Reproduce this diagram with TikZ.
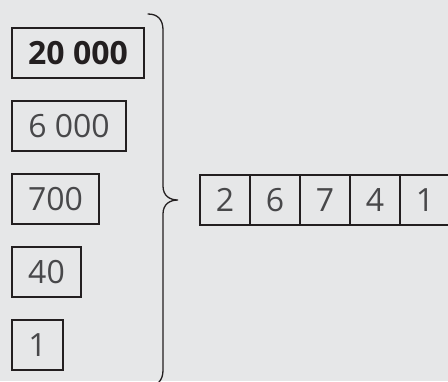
\documentclass[tikz,border=0pt]{standalone}
\usepackage{fontspec}
\setmainfont{Open Sans}
\usetikzlibrary{positioning}

\definecolor{bgray}{HTML}{E6E7E8}
\definecolor{ink}{HTML}{231F20}
\definecolor{digit}{HTML}{48484A}

\begin{document}
\begin{tikzpicture}[
  x=1pt, y=-1pt,
  font=\fontsize{32}{36}\selectfont,
  part/.style={
    draw=ink, line width=1.2pt, text=digit, inner sep=0pt, outer sep=0pt,
    minimum height=50pt, anchor=north west
  },
  cell/.style={
    draw=ink, line width=1.2pt, text=digit, inner sep=0pt, outer sep=0pt,
    minimum width=50pt, minimum height=50pt
  },
  brace/.style={draw=ink, line width=1.3pt, line cap=round}
]
\fill[bgray] (0,0) rectangle (448,381);
\useasboundingbox (0,0) rectangle (448,381);
\clip (0,0) rectangle (448,381);

% Expanded parts on the left
\node[part, minimum width=132pt, font=\fontsize{32}{36}\selectfont\bfseries, text=ink] (b1) at (12,28) {20 000};
\node[part, minimum width=114pt, below=23pt of b1.south west, anchor=north west] (b2) {6 000};
\node[part, minimum width=87pt, below=23pt of b2.south west, anchor=north west] (b3) {700};
\node[part, minimum width=69pt, below=23pt of b3.south west, anchor=north west] (b4) {40};
\node[part, minimum width=51pt, below=23pt of b4.south west, anchor=north west] (b5) {1};

% Digit row
\node[cell, anchor=west] (c1) at (200,200) {2};
\node[cell, right=0pt of c1] (c2) {6};
\node[cell, right=0pt of c2] (c3) {7};
\node[cell, right=0pt of c3] (c4) {4};
\node[cell, right=0pt of c4] (c5) {1};

% Brace joining the parts
\coordinate (tip) at ([xshift=-22pt]c1.west);
\coordinate (btop) at (148,14);
\coordinate (bbot) at (148,386);
\draw[brace] (btop) .. controls (158,14) and (163,20) .. (163,30)
  -- (163,186) .. controls (163,196) and (170,200) .. (tip)
  .. controls (170,200) and (163,204) .. (163,214)
  -- (163,370) .. controls (163,380) and (158,386) .. (bbot);

\end{tikzpicture}
\end{document}
